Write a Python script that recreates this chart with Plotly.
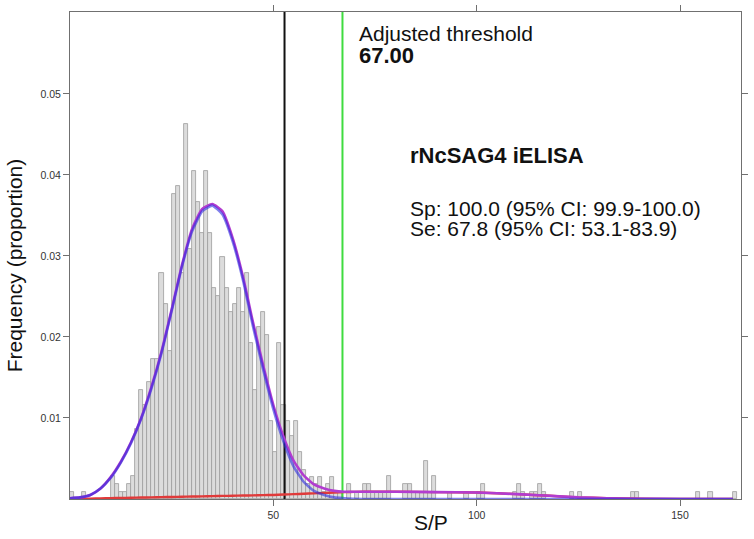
import plotly.graph_objects as go

# ---------------- data ----------------
# histogram: left edge of each non-empty 1-unit S/P bin and its proportion
bin_left = [0, 3, 10, 11, 12, 13, 14, 15, 16, 17, 18, 19, 20, 21, 22, 23, 24,
            25, 26, 27, 28, 29, 30, 31, 32, 33, 34, 35, 36, 37, 38, 39, 40,
            41, 42, 43, 44, 45, 46, 47, 48, 49, 50, 51, 52, 53, 54, 55, 56,
            57, 58, 59, 60, 61, 62, 63, 64, 65, 66, 68, 70, 72, 73, 74, 75,
            76, 77, 78, 82, 83, 84, 85, 86, 87, 88, 89, 93, 97, 100, 101,
            109, 110, 111, 113, 114, 115, 116, 123, 125, 138, 139, 154, 157, 163]
freq = [0.0009, 0.0009, 0.0028, 0.0019, 0.0009, 0.0009, 0.0019, 0.0028, 0.0086,
        0.0135, 0.0116, 0.0144, 0.0173, 0.0173, 0.0279, 0.0241, 0.0183,
        0.0377, 0.0386, 0.0279, 0.0463, 0.0309, 0.0405, 0.0367, 0.0328,
        0.0405, 0.0328, 0.0260, 0.0251, 0.0299, 0.0260, 0.0231, 0.0241,
        0.0260, 0.0231, 0.0279, 0.0193, 0.0135, 0.0212, 0.0231, 0.0202,
        0.0096, 0.0058, 0.0193, 0.0116, 0.0096, 0.0078, 0.0096, 0.0058,
        0.0036, 0.0019, 0.0027, 0.0019, 0.0027, 0.0009, 0.0019, 0.0027,
        0.0009, 0.0009, 0.0019, 0.0009, 0.0019, 0.0019, 0.0009, 0.0009,
        0.0009, 0.0009, 0.0028, 0.0019, 0.0019, 0.0009, 0.0009, 0.0009,
        0.0047, 0.0009, 0.0028, 0.0009, 0.0009, 0.0009, 0.0019,
        0.0009, 0.0019, 0.0009, 0.0009, 0.0009, 0.0019, 0.0009, 0.0009,
        0.0009, 0.0009, 0.0009, 0.0009, 0.0009, 0.0009]

# fitted curves, read at these S/P positions
curve_x = [0, 2.5, 5, 7.5, 10, 12.5, 15, 17.5, 20, 22.5, 25, 27.5, 30, 32.5,
           35, 37.5, 40, 42.5, 45, 47.5, 50, 52.5, 55, 57.5, 60, 62.5, 65,
           67.5, 70, 75, 80, 90, 100, 110, 118, 125, 132, 140, 150, 163]
negative_fit = [0.0001, 0.0002, 0.0005, 0.0013, 0.0026, 0.0045, 0.0069, 0.0099,
                0.0136, 0.0180, 0.0232, 0.0286, 0.0330, 0.0355, 0.0362, 0.0351,
                0.0318, 0.0271, 0.0213, 0.0160, 0.0111, 0.0071, 0.0040, 0.0021,
                0.0010, 0.0005, 0.0002, 0.0001, 0.00003, 0, 0, 0, 0, 0, 0, 0,
                0, 0, 0, 0]
positive_fit = [0, 0.00003, 0.00005, 0.00008, 0.0001, 0.00013, 0.00015, 0.00018,
                0.0002, 0.00023, 0.00025, 0.00028, 0.0003, 0.00033, 0.00035,
                0.00038, 0.0004, 0.00043, 0.00045, 0.00048, 0.0005, 0.00055,
                0.0006, 0.00065, 0.0007, 0.00075, 0.0008, 0.00085, 0.00088,
                0.0009, 0.0009, 0.00085, 0.0008, 0.0006, 0.0004, 0.0002,
                0.0001, 0.00003, 0, 0]
mixture_fit = [0.0001, 0.0002, 0.0005, 0.0013, 0.0027, 0.0046, 0.0070, 0.0100,
               0.0138, 0.0182, 0.0234, 0.0288, 0.0333, 0.0358, 0.0364, 0.0355,
               0.0322, 0.0275, 0.0218, 0.0165, 0.0116, 0.0077, 0.0047, 0.0029,
               0.0018, 0.0013, 0.0010, 0.0009, 0.0009, 0.0009, 0.0009,
               0.00085, 0.0008, 0.0006, 0.0004, 0.0002, 0.0001, 0.00003, 0, 0]

cutoff_original = 52.75
cutoff_adjusted = 67.0

x_ticks = [50, 100, 150]
y_ticks = [0.01, 0.02, 0.03, 0.04, 0.05]
y_tick_text = ["0.01", "0.02", "0.03", "0.04", "0.05"]

# ---------------- figure ----------------
FONT = "Liberation Sans, Arial, Helvetica, sans-serif"
fig = go.Figure()

fig.add_trace(go.Bar(
    x=[b + 0.5 for b in bin_left], y=freq, width=1.0,
    marker=dict(color="#dcdcdc", line=dict(color="#9c9c9c", width=0.8)),
    hoverinfo="skip", showlegend=False))

YMAX = 0.0601
fig.add_trace(go.Scatter(x=[cutoff_original, cutoff_original], y=[0, YMAX],
                         mode="lines", line=dict(color="#111111", width=2),
                         showlegend=False, hoverinfo="skip"))
fig.add_trace(go.Scatter(x=[cutoff_adjusted, cutoff_adjusted], y=[0, YMAX],
                         mode="lines", line=dict(color="#3fdc3f", width=2),
                         showlegend=False, hoverinfo="skip"))

fig.add_trace(go.Scatter(x=curve_x, y=positive_fit, mode="lines",
                         line=dict(color="#e03a3a", width=2.4, shape="spline", smoothing=0.5),
                         showlegend=False, hoverinfo="skip"))
fig.add_trace(go.Scatter(x=curve_x, y=mixture_fit, mode="lines",
                         line=dict(color="#b23cd0", width=2.6, shape="spline", smoothing=0.5),
                         showlegend=False, hoverinfo="skip"))
fig.add_trace(go.Scatter(x=curve_x, y=negative_fit, mode="lines", opacity=0.6,
                         line=dict(color="#2e2ee0", width=2.6, shape="spline", smoothing=0.5),
                         showlegend=False, hoverinfo="skip"))

W, H = 754, 539
L, R, T, B = 70, 13, 5, 40
PW, PH = W - L - R, H - T - B


def px_x(p):
    return (p - L) / PW


def px_y(p):
    return (H - B - p) / PH


def note(text, x, y, size, bold=False, anchor="left", angle=0):
    fig.add_annotation(
        x=px_x(x), y=px_y(y), xref="paper", yref="paper",
        text=f"<b>{text}</b>" if bold else text, showarrow=False,
        xanchor=anchor, yanchor="middle", textangle=angle,
        font=dict(family=FONT, size=size, color="#111111"))


note("Adjusted threshold", 357, 27, 21)
note("67.00", 357, 49, 22, bold=True)
note("rNcSAG4 iELISA", 408, 151, 22, bold=True)
note("Sp: 100.0 (95% CI: 99.9-100.0)", 408, 204, 21)
note("Se: 67.8 (95% CI: 53.1-83.9)", 408, 225, 21)
note("S/P", 431, 523, 21, anchor="center")
note("Frequency (proportion)", 14, 262, 21, anchor="center", angle=-90)

axis_common = dict(showline=True, linecolor="#707070", linewidth=1, mirror="allticks",
                   ticks="outside", ticklen=6, tickcolor="#707070", tickwidth=1,
                   showgrid=False, zeroline=False,
                   tickfont=dict(family=FONT, size=10.5, color="#333333"))

fig.update_xaxes(range=[0, 165], tickvals=x_ticks, ticktext=[str(v) for v in x_ticks],
                 **axis_common)
fig.update_yaxes(range=[0, YMAX], tickvals=y_ticks, ticktext=y_tick_text, **axis_common)

fig.update_layout(
    width=W, height=H, margin=dict(l=L, r=R, t=T, b=B),
    paper_bgcolor="white", plot_bgcolor="white", bargap=0,
    showlegend=False, font=dict(family=FONT))

fig.write_html("out.html", config={"displayModeBar": False},
               post_script="document.body.style.margin='0';document.body.style.overflow='hidden';")
